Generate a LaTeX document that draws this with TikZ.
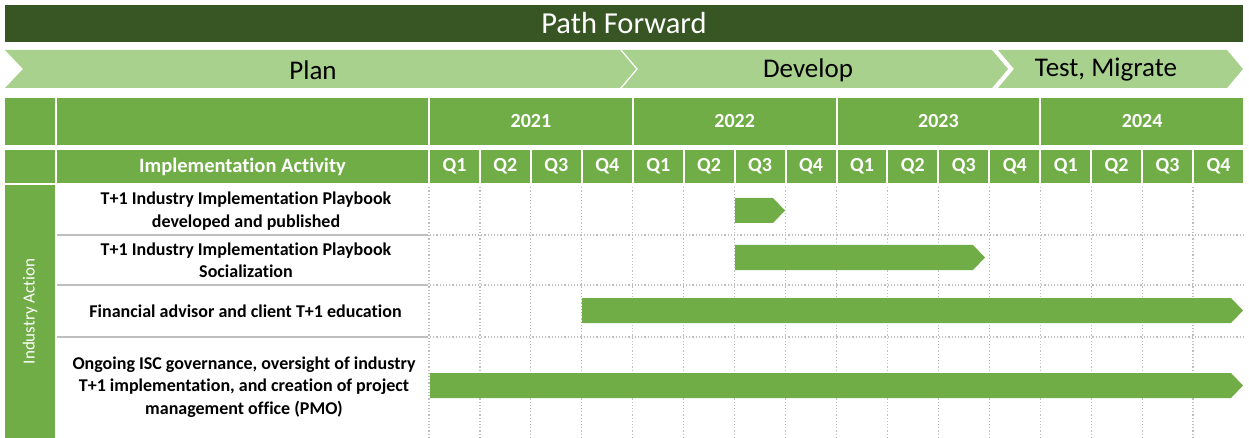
\documentclass[tikz,border=0pt]{standalone}
\usepackage{fontspec}
\setmainfont{Carlito}[Ligatures=NoCommon]
\usepackage{tikz}
\definecolor{titlegreen}{HTML}{375623}
\definecolor{phasegreen}{HTML}{A9D18E}
\definecolor{headgreen}{HTML}{70AD47}
\definecolor{gridgray}{HTML}{BFBFBF}
\pgfdeclarelayer{bg}
\pgfsetlayers{bg,main}

\begin{document}
\begin{tikzpicture}[x=1pt,y=-1pt,
        phase/.style={fill=phasegreen},
        phasetext/.style={font=\fontsize{27}{30}\selectfont},
        cell/.style={fill=headgreen, draw=white, line width=2pt, inner sep=0pt, text=white,
                font=\fontsize{20}{24}\selectfont\bfseries},
        acttext/.style={font=\fontsize{18}{22.5}\selectfont\bfseries, align=center},
        dotgrid/.style={draw=gridgray, dotted, line width=1.2pt},
        rowline/.style={draw=gridgray, line width=1.2pt},
        task/.style={fill=headgreen}]
        \useasboundingbox (0,0) rectangle (1249,438);
        % title
        \node (title) [fill=titlegreen, minimum width=1238pt, minimum height=37pt, inner sep=0pt,
                text=white, font=\fontsize{30.5}{32}\selectfont] at (624,23.5) {Path Forward};
        % phases
        \fill[phase] (5,50) -- (620,50) -- (636,69) -- (620,88) -- (5,88) -- (23,69) -- cycle;
        \fill[phase] (622,50) -- (992,50) -- (1008,69) -- (992,88) -- (622,88) -- (638,69) -- cycle;
        \fill[phase] (998,50) -- (1227,50) -- (1243,69) -- (1227,88) -- (998,88) -- (1014,69) -- cycle;
        \node (plan) [phasetext] at (313,70) {Plan};
        \node (develop) [phasetext] at (808,70) {Develop};
        \node (test) [phasetext] at (1106,70) {Test, Migrate};
        % header
        \node (corner1) [cell, minimum width=52pt, minimum height=49pt] at (30,121.5) {};
        \node (corner2) [cell, minimum width=52pt, minimum height=35pt] at (30,166.5) {};
        \node (blank) [cell, minimum width=373pt, minimum height=49pt] at (242.5,121.5) {};
        \node (activity) [cell, minimum width=373pt, minimum height=35pt,
                font=\fontsize{20.5}{24}\selectfont\bfseries] at (242.5,166.5) {Implementation Activity};
        \foreach \yr [count=\i from 0] in {2021,2022,2023,2024} {
                \node (y\yr) [cell, minimum width=203.75pt, minimum height=49pt]
                        at ({429+(4*\i+2)*50.9375},121.5) {\yr};
                \foreach \q in {1,2,3,4}
                        \node (q\yr\q) [cell, minimum width=50.9375pt, minimum height=35pt]
                                at ({429+(4*\i+\q-0.5)*50.9375},166.5) {Q\q};
        }
        % side label
        \node (side) [fill=headgreen, rotate=90, minimum width=253pt, minimum height=50pt, inner sep=0pt,
                text=white, font=\fontsize{17}{20}\selectfont] at (30,311.5) {Industry Action};
        % activities
        \node (act1) [acttext] at (246,211) {T+1 Industry Implementation Playbook\\developed and published};
        \node (act2) [acttext] at (246,260.5) {T+1 Industry Implementation Playbook\\Socialization};
        \node (act3) [acttext] at (245.5,311) {Financial advisor and client T+1 education};
        \node (act4) [acttext] at (244,387) {Ongoing ISC governance, oversight of industry\\T+1 implementation, and creation of project\\management office (PMO)};
        \begin{pgfonlayer}{bg}
                \foreach \k in {0,...,15}
                        \draw[dotgrid] ({429+\k*50.9375},184) -- ({429+\k*50.9375},438);
                \foreach \y in {235,285,337} {
                        \draw[rowline] (57,\y) -- (428,\y);
                        \draw[dotgrid] (430,\y) -- (1243,\y);
                }
        \end{pgfonlayer}
        % bars
        \foreach \xa/\xb/\ya in {735/785/198, 735/985/245, 582/1243/298, 430/1243/373}
                \fill[task] (\xa,\ya) -- ({\xb-12},\ya) -- (\xb,{\ya+12.5}) -- ({\xb-12},{\ya+25}) -- (\xa,{\ya+25}) -- cycle;
\end{tikzpicture}
\end{document}
